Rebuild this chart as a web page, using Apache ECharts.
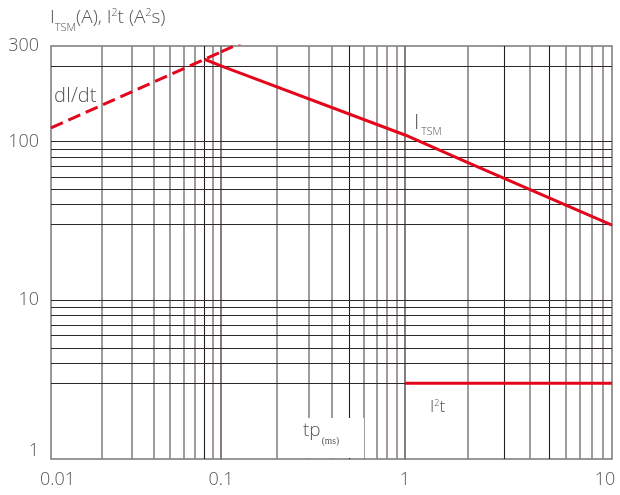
<!DOCTYPE html>
<html>
<head>
<meta charset="utf-8">
<script src="https://cdn.jsdelivr.net/npm/echarts@6/dist/echarts.min.js"></script>
<style>
    html, body { margin: 0; padding: 0; background: #fff; }
    #chart { width: 620px; height: 495px; }
</style>
</head>
<body>
<div id="chart"></div>
<script>
// decade limits of the time axis (ms), one grid per decade
const decadeEdges = [0.01, 0.1, 1, 10];
// minor grid multiples inside a decade
const minorSteps = [2, 3, 4, 5, 6, 7, 8, 9];
// vertical lines printed in black instead of grey
const darkVerticals = [0.08, 0.5, 3, 5];
// horizontal grid lines
const yGridValues = [3, 4, 5, 6, 7, 8, 9, 10, 30, 40, 50, 60, 70, 80, 90, 100, 300];
const yMin = 1;
const yMax = 400;
const yTopLabel = '300';

// ITSM surge current (A)
const itsmTime = [0.08, 0.1, 1, 2, 10];
const itsmAmp = [330, 300, 110, 74, 29.7];
// dI/dt limit line (dashed)
const didtTime = [0.01, 0.1, 0.15];
const didtAmp = [122, 367, 455];
// I2t (A2s)
const i2tTime = [1, 10];
const i2tVal = [3, 3];

// layout of the three decade grids (pixels)
const gridLeft = [51, 221, 405];
const gridWidth = [170, 184, 207];
const gridTop = 46;
const gridHeight = 413;

const FONT = '"Open Sans", "Noto Sans", sans-serif';
const WEIGHT = 300;
const TEXT = '#555555';
const RED = '#e3061c';

function pointsIn(ts, vs, lo, hi) {
    let out = [];
    for (let i = 0; i < ts.length; i++) {
        if (ts[i] >= lo * 0.9999 && ts[i] <= hi * 1.0001) out.push([ts[i], vs[i]]);
    }
    return out;
}

function isDark(v) {
    return darkVerticals.some(function (d) { return Math.abs(d - v) / d < 1e-6; });
}

function txt(size, extra) {
    let s = { fontSize: size, fontFamily: FONT, fontWeight: WEIGHT, fill: TEXT, color: TEXT };
    for (let k in extra) s[k] = extra[k];
    return s;
}

let grids = [], xAxes = [], yAxes = [], series = [];

for (let g = 0; g < 3; g++) {
    let lo = decadeEdges[g], hi = decadeEdges[g + 1];

    grids.push({
        left: gridLeft[g], width: gridWidth[g], top: gridTop, height: gridHeight,
        show: true, borderColor: '#7c7575', borderWidth: 1.5, backgroundColor: 'transparent'
    });

    xAxes.push({
        type: 'log', logBase: 10, gridIndex: g, min: lo, max: hi,
        axisLine: { show: false }, axisTick: { show: false },
        splitLine: { show: false }, minorSplitLine: { show: false },
        axisLabel: {
            show: true, showMinLabel: g === 0, showMaxLabel: true,
            margin: 12, fontSize: 18, color: TEXT, fontFamily: FONT, fontWeight: WEIGHT,
            formatter: function (v) {
                let s = String(+v.toPrecision(3));
                if (s === '0.01') return '{l|' + s + '}';
                if (s === '10') return '{r|' + s + '}';
                return s;
            },
            rich: {
                l: txt(18, { padding: [0, 0, 0, 13] }),
                r: txt(18, { padding: [0, 14, 0, 0] })
            }
        }
    });

    yAxes.push({
        type: 'log', logBase: 10, gridIndex: g, min: yMin, max: yMax,
        axisLine: { show: false }, axisTick: { show: false },
        splitLine: { show: false }, minorSplitLine: { show: false },
        axisLabel: {
            show: g === 0, showMinLabel: true, showMaxLabel: true,
            margin: 12, fontSize: 18, color: TEXT, fontFamily: FONT, fontWeight: WEIGHT,
            formatter: function (v) {
                if (v > yMax * 0.9) return yTopLabel;
                if (v < 1.5) return '{b|1}';
                return String(Math.round(v));
            },
            rich: {
                b: txt(18, { padding: [0, 0, 16, 0] })
            }
        }
    });

    // grid lines drawn as mark lines on the axes of this decade
    let lines = [];
    minorSteps.forEach(function (m) {
        let v = +(lo * m).toPrecision(3);
        let dark = isDark(v);
        lines.push({
            xAxis: v,
            lineStyle: { color: dark ? '#231f20' : '#8a8383', width: dark ? 1.1 : 1.6, type: 'solid' }
        });
    });
    yGridValues.forEach(function (v) {
        lines.push({ yAxis: v, lineStyle: { color: '#2e292a', width: 1.1, type: 'solid' } });
    });

    series.push({
        type: 'line', xAxisIndex: g, yAxisIndex: g, data: [], silent: true, z: 1,
        markLine: {
            silent: true, symbol: ['none', 'none'], animation: false, z: 1,
            label: { show: false }, emphasis: { disabled: true },
            data: lines
        }
    });

    // the curves, split per decade
    let itsm = pointsIn(itsmTime, itsmAmp, lo, hi);
    if (itsm.length > 1) series.push({
        type: 'line', name: 'ITSM', xAxisIndex: g, yAxisIndex: g, data: itsm, z: 5,
        showSymbol: false, symbol: 'none', lineStyle: { color: RED, width: 3 }
    });
    let didt = pointsIn(didtTime, didtAmp, lo, hi);
    if (didt.length > 1) series.push({
        type: 'line', name: 'dI/dt', xAxisIndex: g, yAxisIndex: g, data: didt, z: 5,
        showSymbol: false, symbol: 'none', clip: true,
        lineStyle: { color: RED, width: 3, type: [13, 6] }
    });
    let i2t = pointsIn(i2tTime, i2tVal, lo, hi);
    if (i2t.length > 1) series.push({
        type: 'line', name: 'I2t', xAxisIndex: g, yAxisIndex: g, data: i2t, z: 5,
        showSymbol: false, symbol: 'none', lineStyle: { color: RED, width: 3 }
    });
}

let chart = echarts.init(document.getElementById('chart'), null, { renderer: 'canvas' });

let option = {
    animation: false,
    backgroundColor: '#fff',
    grid: grids,
    xAxis: xAxes,
    yAxis: yAxes,
    series: series,
    graphic: [
        {   // axis title
            type: 'text', x: 50, y: 3, z: 60,
            style: {
                text: '{m|I}{s|TSM}{m|(A), I}{p|2}{m|t (A}{p|2}{m|s)}',
                verticalAlign: 'top', fill: TEXT,
                rich: {
                    m: txt(19, { lineHeight: 30 }),
                    s: txt(11, { verticalAlign: 'top', padding: [19, 0, 0, 0] }),
                    p: txt(10.5, { verticalAlign: 'top', padding: [5, 0, 0, 0] })
                }
            }
        },
        {
            type: 'text', x: 54, y: 86, z: 60,
            style: txt(20, { text: 'dI/dt', verticalAlign: 'top' })
        },
        {
            type: 'text', x: 414, y: 108, z: 60,
            style: {
                text: '{m|I}{s|TSM}', verticalAlign: 'top',
                rich: {
                    m: txt(21, { lineHeight: 30 }),
                    s: txt(10.5, { verticalAlign: 'top', padding: [19, 0, 0, 2] })
                }
            }
        },
        {
            type: 'text', x: 430, y: 392, z: 60,
            style: {
                text: '{m|I}{p|2}{m|t}', verticalAlign: 'top',
                rich: {
                    m: txt(17, { lineHeight: 30 }),
                    p: txt(9, { verticalAlign: 'top', padding: [7, 0, 0, 0] })
                }
            }
        },
        {   // white patch under the time-axis title
            type: 'rect', zlevel: 1, z: 100,
            shape: { x: 297, y: 418, width: 67, height: 40 },
            style: { fill: '#fff' }
        },
        {
            type: 'text', x: 303, y: 415, zlevel: 1, z: 101,
            style: {
                text: '{m|tp}{s|(ms)}', verticalAlign: 'top',
                rich: {
                    m: txt(19, { lineHeight: 30 }),
                    s: { fontSize: 9.5, verticalAlign: 'top', padding: [21, 0, 0, 1],
                         fontFamily: '"Liberation Serif", "DejaVu Serif", serif', fill: TEXT }
                }
            }
        }
    ]
};

chart.setOption(option);
</script>
</body>
</html>
